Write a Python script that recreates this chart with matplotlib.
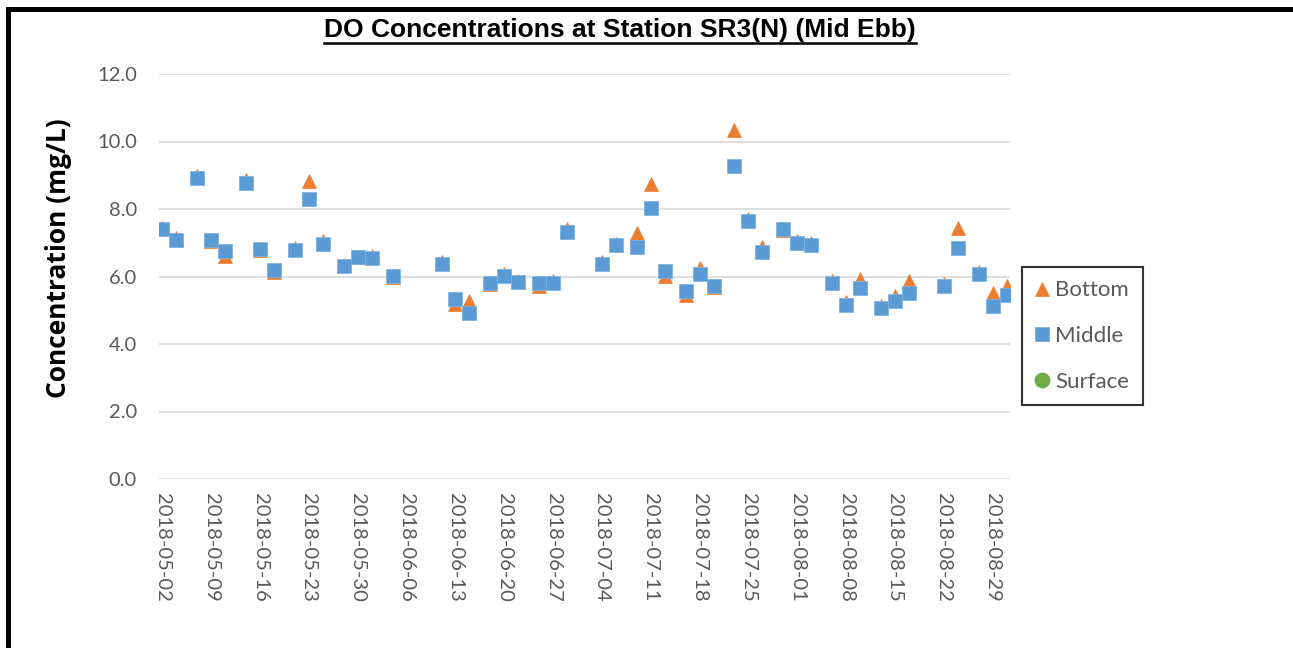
import pandas as pd
import matplotlib
matplotlib.use("Agg")
import matplotlib.pyplot as plt
import matplotlib.dates as mdates
from matplotlib.lines import Line2D
from matplotlib.patches import Rectangle

plt.rcParams["font.family"] = ["Lato", "DejaVu Sans"]

# sampling dates (mid ebb) and DO readings, mg/L
dates = ["2018-05-02", "2018-05-04", "2018-05-07", "2018-05-09", "2018-05-11",
         "2018-05-14", "2018-05-16", "2018-05-18", "2018-05-21", "2018-05-23",
         "2018-05-25", "2018-05-28", "2018-05-30", "2018-06-01", "2018-06-04",
         "2018-06-11", "2018-06-13", "2018-06-15", "2018-06-18", "2018-06-20",
         "2018-06-22", "2018-06-25", "2018-06-27", "2018-06-29", "2018-07-04",
         "2018-07-06", "2018-07-09", "2018-07-11", "2018-07-13", "2018-07-16",
         "2018-07-18", "2018-07-20", "2018-07-23", "2018-07-25", "2018-07-27",
         "2018-07-30", "2018-08-01", "2018-08-03", "2018-08-06", "2018-08-08",
         "2018-08-10", "2018-08-13", "2018-08-15", "2018-08-17", "2018-08-22",
         "2018-08-24", "2018-08-27", "2018-08-29", "2018-08-31"]

bottom = [7.45, 7.13, 8.97, 7.05, 6.62, 8.85, 6.80, 6.12, 6.84, 8.83,
          7.04, 6.35, 6.58, 6.61, 5.98, 6.42, 5.20, 5.26, 5.77, 6.08,
          5.88, 5.72, 5.87, 7.40, 6.42, 6.95, 7.29, 8.75, 6.02, 5.45,
          6.25, 5.70, 10.35, 7.70, 6.86, 7.38, 7.04, 7.00, 5.88, 5.24,
          5.93, 5.14, 5.42, 5.88, 5.78, 7.44, 6.14, 5.50, 5.72]

middle = [7.42, 7.08, 8.93, 7.07, 6.75, 8.78, 6.82, 6.20, 6.79, 8.30,
          6.97, 6.30, 6.58, 6.55, 6.02, 6.36, 5.33, 4.91, 5.80, 6.02,
          5.83, 5.80, 5.82, 7.33, 6.38, 6.93, 6.87, 8.02, 6.15, 5.56,
          6.07, 5.73, 9.28, 7.65, 6.72, 7.42, 6.99, 6.94, 5.82, 5.16,
          5.66, 5.08, 5.28, 5.50, 5.72, 6.83, 6.07, 5.13, 5.44]

# no surface readings shown on this chart
surface_dates = []
surface = []

tick_dates = pd.date_range("2018-05-02", "2018-08-29", freq="7D")

W, H = 1293, 648
fig = plt.figure(figsize=(W / 100, H / 100), dpi=100)
ax = fig.add_axes([159 / W, 1 - 479 / H, (1010 - 159) / W, (479 - 74) / H])

x = pd.to_datetime(dates)
ax.plot(pd.to_datetime(surface_dates), surface, "o", color="#70AD47", ms=10.4,
        label="Surface", zorder=2)
ax.plot(x, bottom, "^", color="#ED7D31", ms=10.4, mec="#ED7D31", mew=0.5,
        label="Bottom", zorder=3)
ax.plot(x, middle, "s", color="#5B9BD5", ms=10.0, mec="#7FB2E0", mew=0.6,
        label="Middle", zorder=4)

ax.set_ylim(0, 12)
ax.set_yticks([0, 2, 4, 6, 8, 10, 12])
ax.yaxis.set_major_formatter(plt.FormatStrFormatter("%.1f"))
ax.set_xlim(pd.Timestamp("2018-05-01 12:00"), pd.Timestamp("2018-08-31 12:00"))
ax.set_xticks(tick_dates)
ax.xaxis.set_major_formatter(mdates.DateFormatter("%Y-%m-%d"))
for lab in ax.get_xticklabels():
    lab.set_rotation(270)
    lab.set_ha("center")
    lab.set_va("top")

ax.grid(axis="y", color="#D9D9D9", lw=1.2)
ax.set_axisbelow(True)
for s in ax.spines.values():
    s.set_visible(False)
ax.tick_params(axis="both", length=0, labelsize=14.5, colors="#595959")
ax.tick_params(axis="y", pad=16)
ax.tick_params(axis="x", pad=10)

fig.text(58 / W, 1 - 258 / H, "Concentration (mg/L)", rotation=90,
         ha="center", va="center", fontsize=19, fontweight="bold",
         family="Open Sans")

title = fig.text(620 / W, 1 - 30 / H, "DO Concentrations at Station SR3(N) (Mid Ebb)",
                 ha="center", va="center", fontsize=19, fontweight="bold",
                 family="Liberation Sans")

handles, labels = ax.get_legend_handles_labels()
order = [labels.index(n) for n in ["Bottom", "Middle", "Surface"]]
leg = fig.legend([handles[i] for i in order], [labels[i] for i in order],
                 loc="upper left", bbox_to_anchor=(1022 / W, 1 - 267 / H),
                 fontsize=16, frameon=True, fancybox=False, edgecolor="black",
                 handlelength=0.6, handletextpad=0.3, labelspacing=1.16,
                 borderpad=0.6, borderaxespad=0)
leg.get_frame().set_linewidth(1.5)
for t in leg.get_texts():
    t.set_color("#595959")

# underline the title
r = fig.canvas.get_renderer()
bb = title.get_window_extent(r)
uy = (bb.y0 - 1) / H
fig.add_artist(Line2D([bb.x0 / W, bb.x1 / W], [uy, uy], color="black", lw=1.8))

# black frame on top and left edge
fig.add_artist(Rectangle((6 / W, 0), 5 / W, 1 - 7 / H, transform=fig.transFigure,
                         color="black", lw=0))
fig.add_artist(Rectangle((6 / W, 1 - 12 / H), 1, 5 / H, transform=fig.transFigure,
                         color="black", lw=0))

fig.savefig("out.png", dpi=100)
